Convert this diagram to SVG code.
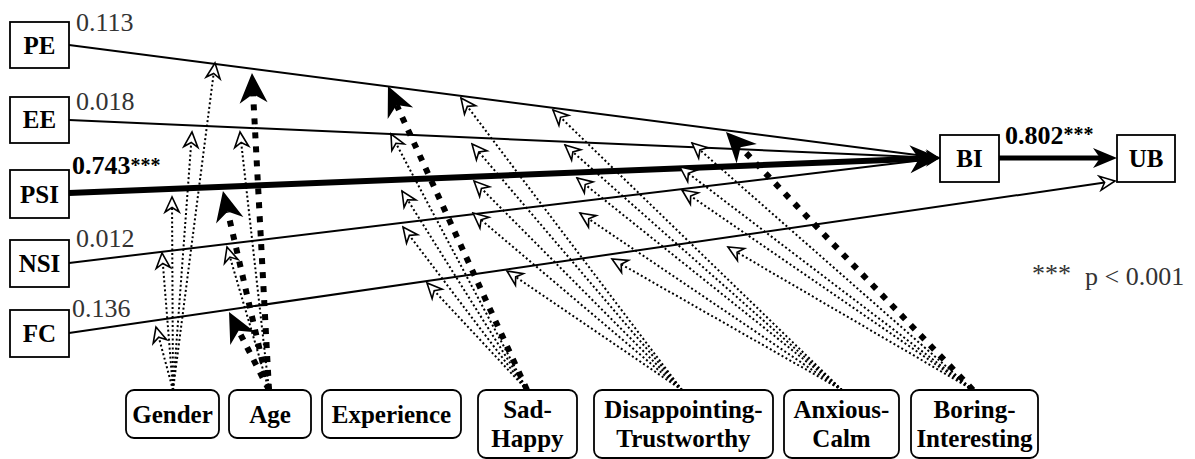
<svg xmlns="http://www.w3.org/2000/svg" width="1195" height="459" viewBox="0 0 1195 459">
  <style>
    .box { fill: #ffffff; stroke: #000000; stroke-width: 1.8; }
    .lbl { font-family: "Liberation Serif", "Times New Roman", serif; font-weight: bold; font-size: 25px; fill: #000000; text-anchor: middle; }
    .coef { font-family: "Liberation Serif", "Times New Roman", serif; font-size: 26px; fill: #333333; }
    .coef-b { font-family: "Liberation Serif", "Times New Roman", serif; font-size: 26px; font-weight: bold; fill: #000000; }
    .star { font-size: 20px; }
    .path { fill: none; stroke: #000000; stroke-width: 2; }
    .path-thick { fill: none; stroke: #000000; stroke-width: 6; }
    .path-out { fill: none; stroke: #000000; stroke-width: 5; }
    .mod { fill: none; stroke: #000000; stroke-width: 2; stroke-dasharray: 2 2.5; marker-end: url(#open); }
    .mod-sig { fill: none; stroke: #000000; stroke-width: 6; stroke-dasharray: 6 8; marker-end: url(#big); }
  </style>
  <defs>
    <!-- hollow notched arrowhead, tip at the line end -->
    <marker id="open" markerUnits="userSpaceOnUse" viewBox="-18 -9 20 18" markerWidth="20" markerHeight="18" refX="0" refY="0" orient="auto">
      <path d="M0,0 L-15,-7 L-10.5,0 L-15,7 Z" fill="#ffffff" stroke="#000000" stroke-width="1.6"/>
    </marker>
    <!-- small filled arrowhead, tip at the line end -->
    <marker id="small" markerUnits="userSpaceOnUse" viewBox="-17 -9 19 18" markerWidth="19" markerHeight="18" refX="0" refY="0" orient="auto">
      <path d="M0,0 L-15,-7 L-10,0 L-15,7 Z" fill="#000000"/>
    </marker>
    <!-- large filled arrowhead, line ends at the notch -->
    <marker id="big" markerUnits="userSpaceOnUse" viewBox="-11 -16 34 32" markerWidth="34" markerHeight="32" refX="0" refY="0" orient="auto">
      <path d="M21,0 L-9,-14 L0,0 L-9,14 Z" fill="#000000"/>
    </marker>
    <!-- medium filled arrowhead, line ends at the notch -->
    <marker id="mid" markerUnits="userSpaceOnUse" viewBox="-9 -12 28 24" markerWidth="28" markerHeight="24" refX="0" refY="0" orient="auto">
      <path d="M17,0 L-7,-10 L0,0 L-7,10 Z" fill="#000000"/>
    </marker>
  </defs>

  <rect width="1195" height="459" fill="#ffffff"/>

  <g id="connectors">
    <!-- direct paths -->
    <line class="path" x1="69" y1="45" x2="940" y2="158" marker-end="url(#small)"/>
    <line class="path" x1="69" y1="120" x2="940" y2="158" marker-end="url(#small)"/>
    <line class="path" x1="69" y1="263" x2="940" y2="158" marker-end="url(#small)"/>
    <line class="path" x1="69" y1="333" x2="1115" y2="181" marker-end="url(#open)"/>
    <line class="path-thick" x1="69" y1="193" x2="919" y2="158.8" marker-end="url(#big)"/>
    <line class="path-out" x1="999" y1="158" x2="1100" y2="158" marker-end="url(#mid)"/>

    <!-- Gender moderation -->
    <line class="mod" x1="173" y1="390" x2="215" y2="63"/>
    <line class="mod" x1="173" y1="390" x2="192" y2="132"/>
    <line class="mod" x1="173" y1="390" x2="172" y2="197"/>
    <line class="mod" x1="173" y1="390" x2="162" y2="253"/>
    <line class="mod" x1="173" y1="390" x2="156" y2="327"/>

    <!-- Age moderation -->
    <line class="mod-sig" x1="269" y1="390" x2="253.1" y2="94"/>
    <line class="mod" x1="269" y1="390" x2="240" y2="132"/>
    <line class="mod-sig" x1="269" y1="390" x2="227.7" y2="211.5"/>
    <line class="mod" x1="269" y1="390" x2="227" y2="247"/>
    <line class="mod-sig" x1="269" y1="390" x2="238.6" y2="330.7"/>

    <!-- Sad-Happy moderation -->
    <line class="mod-sig" x1="527" y1="390" x2="396.7" y2="105.1"/>
    <line class="mod" x1="527" y1="390" x2="391" y2="134"/>
    <line class="mod" x1="527" y1="390" x2="402" y2="191"/>
    <line class="mod" x1="527" y1="390" x2="403" y2="227"/>
    <line class="mod" x1="527" y1="390" x2="427" y2="283"/>

    <!-- Disappointing-Trustworthy moderation -->
    <line class="mod" x1="682" y1="390" x2="461" y2="98"/>
    <line class="mod" x1="682" y1="390" x2="472" y2="144"/>
    <line class="mod" x1="682" y1="390" x2="474" y2="181"/>
    <line class="mod" x1="682" y1="390" x2="473" y2="213"/>
    <line class="mod" x1="682" y1="390" x2="507" y2="271"/>

    <!-- Anxious-Calm moderation -->
    <line class="mod" x1="842" y1="390" x2="553" y2="110"/>
    <line class="mod" x1="842" y1="390" x2="565" y2="145"/>
    <line class="mod" x1="842" y1="390" x2="577" y2="178"/>
    <line class="mod" x1="842" y1="390" x2="580" y2="213"/>
    <line class="mod" x1="842" y1="390" x2="612" y2="259"/>

    <!-- Boring-Interesting moderation -->
    <line class="mod-sig" x1="973" y1="390" x2="740.5" y2="147.2"/>
    <line class="mod" x1="973" y1="390" x2="692" y2="143"/>
    <line class="mod" x1="973" y1="390" x2="680" y2="167"/>
    <line class="mod" x1="973" y1="390" x2="682" y2="190"/>
    <line class="mod" x1="973" y1="390" x2="728" y2="247"/>
  </g>

  <!-- path coefficients -->
  <g id="coefficients">
    <text class="coef" x="76" y="31">0.113</text>
    <text class="coef" x="76" y="110">0.018</text>
    <text class="coef-b" x="72" y="174">0.743<tspan class="star" dy="-2">***</tspan></text>
    <text class="coef" x="76" y="247">0.012</text>
    <text class="coef" x="72" y="317">0.136</text>
    <text class="coef-b" x="1005" y="144">0.802<tspan class="star" dy="-3">***</tspan></text>
    <text class="coef" x="1032" y="282" font-size="22">***</text>
    <text class="coef" x="1085" y="285" font-size="27">p &lt; 0.001</text>
  </g>

  <!-- constructs -->
  <g id="PE"><rect class="box" x="10" y="22" width="59" height="46"/><text class="lbl" x="39.5" y="54">PE</text></g>
  <g id="EE"><rect class="box" x="10" y="97" width="59" height="46"/><text class="lbl" x="39.5" y="128">EE</text></g>
  <g id="PSI"><rect class="box" x="10" y="170" width="59" height="48"/><text class="lbl" x="39.5" y="203">PSI</text></g>
  <g id="NSI"><rect class="box" x="10" y="240" width="59" height="47"/><text class="lbl" x="39.5" y="272">NSI</text></g>
  <g id="FC"><rect class="box" x="10" y="310" width="59" height="47"/><text class="lbl" x="39.5" y="342">FC</text></g>
  <g id="BI"><rect class="box" x="940" y="135" width="59" height="47"/><text class="lbl" x="969.5" y="167">BI</text></g>
  <g id="UB"><rect class="box" x="1117" y="135" width="58" height="47"/><text class="lbl" x="1146" y="167">UB</text></g>

  <!-- moderators -->
  <g id="Gender"><rect class="box" x="126" y="390" width="93" height="48" rx="8"/><text class="lbl" x="172.5" y="423">Gender</text></g>
  <g id="Age"><rect class="box" x="229" y="390" width="82" height="48" rx="8"/><text class="lbl" x="270" y="423">Age</text></g>
  <g id="Experience"><rect class="box" x="322" y="390" width="139" height="48" rx="8"/><text class="lbl" x="391.5" y="423">Experience</text></g>
  <g id="SadHappy"><rect class="box" x="478" y="390" width="99" height="68" rx="8"/><text class="lbl" x="527.5" y="418">Sad-</text><text class="lbl" x="527.5" y="447">Happy</text></g>
  <g id="DisappointingTrustworthy"><rect class="box" x="594" y="390" width="179" height="68" rx="8"/><text class="lbl" x="683.5" y="418">Disappointing-</text><text class="lbl" x="683.5" y="447">Trustworthy</text></g>
  <g id="AnxiousCalm"><rect class="box" x="784" y="390" width="115" height="68" rx="8"/><text class="lbl" x="841.5" y="418">Anxious-</text><text class="lbl" x="841.5" y="447">Calm</text></g>
  <g id="BoringInteresting"><rect class="box" x="911" y="390" width="127" height="68" rx="8"/><text class="lbl" x="974.5" y="418">Boring-</text><text class="lbl" x="974.5" y="447">Interesting</text></g>
</svg>
